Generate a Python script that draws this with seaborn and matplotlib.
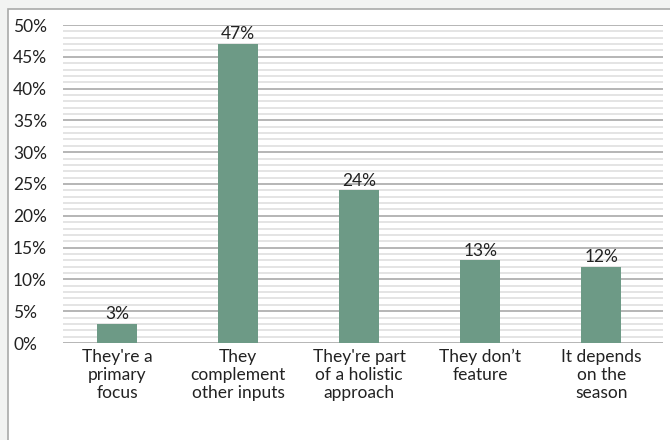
import matplotlib
matplotlib.use("Agg")
import matplotlib.pyplot as plt
from matplotlib.patches import Rectangle
from matplotlib.ticker import MultipleLocator
import seaborn as sns
import pandas as pd

categories = [
    "They're a\nprimary\nfocus",
    "They\ncomplement\nother inputs",
    "They're part\nof a holistic\napproach",
    "They don\u2019t\nfeature",
    "It depends\non the\nseason",
]
values = [3, 47, 24, 13, 12]
value_labels = ["3%", "47%", "24%", "13%", "12%"]
y_ticks = [0, 5, 10, 15, 20, 25, 30, 35, 40, 45, 50]
y_tick_labels = ["0%", "5%", "10%", "15%", "20%", "25%", "30%", "35%", "40%", "45%", "50%"]

sns.set_theme(style="white")
plt.rcParams["font.family"] = ["Lato", "DejaVu Sans"]

df = pd.DataFrame({"category": categories, "value": values})

fig = plt.figure(figsize=(6.7, 4.4), dpi=100)
fig.patch.set_facecolor("#f2f3f2")
# white card behind the chart
card = Rectangle((8 / 670, -0.05), 1.1, 1 - 9 / 440 + 0.05,
                 transform=fig.transFigure, facecolor="white",
                 edgecolor="#a9aaa9", linewidth=1.2, zorder=-5)
fig.patches.append(card)

ax = fig.add_axes([63 / 670, 1 - 343 / 440, 600 / 670, 318 / 440])
ax.set_zorder(2)
ax.set_facecolor("none")

sns.barplot(data=df, x="category", y="value", color="#6d9a86", saturation=1,
            width=0.33, linewidth=0, ax=ax, zorder=3)

ax.set_xlim(-0.446, 4.51)
ax.set_ylim(0, 50)
ax.yaxis.set_major_locator(MultipleLocator(5))
ax.yaxis.set_minor_locator(MultipleLocator(1))
ax.set_axisbelow(True)
ax.grid(which="minor", axis="y", color="#e4e4e4", linewidth=1.4)
ax.grid(which="major", axis="y", color="#b0b0b0", linewidth=1.3)
for s in ax.spines.values():
    s.set_visible(False)

ax.set_yticks(y_ticks)
ax.set_yticklabels(y_tick_labels, fontsize=12.5, color="#222222", ha="left")
ax.tick_params(axis="y", which="both", length=0, pad=36)
ax.tick_params(axis="x", length=0, pad=4, labelsize=12.5, labelcolor="#222222")
for t in ax.get_xticklabels():
    t.set_linespacing(1.18)
ax.set_xlabel("")
ax.set_ylabel("")

for i, (v, lab) in enumerate(zip(values, value_labels)):
    ax.text(i, v + 0.25, lab, ha="center", va="bottom", fontsize=12.5, color="#222222")

fig.savefig("out.png", dpi=100, facecolor=fig.get_facecolor())
